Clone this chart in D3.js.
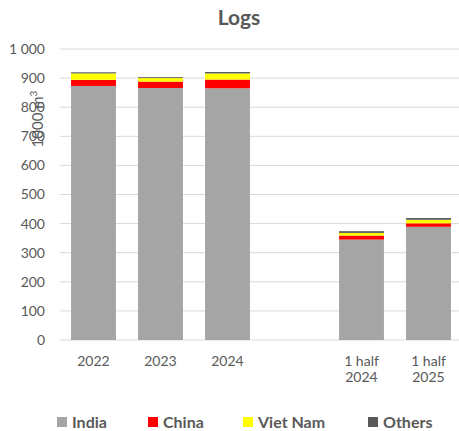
<!DOCTYPE html>
<html><head><meta charset="utf-8">
<script src="https://cdn.jsdelivr.net/npm/d3@7"></script>
<style>body{margin:0;background:#fff}svg{display:block}text{font-family:Lato,"Liberation Sans",sans-serif}</style>
</head><body><svg id="c" width="459" height="431"></svg>
<script>
const categories = ["2022", "2023", "2024", "", "1 half|2024", "1 half|2025"];
const seriesNames = ["India", "China", "Viet Nam", "Others"];
const colors = ["#a5a5a5", "#ff0000", "#ffff00", "#595959"];
const india   = [873, 866, 865, null, 345, 389];
const china   = [21, 22, 30, null, 14, 12];
const vietnam = [22, 12, 21, null, 9, 12];
const others  = [4, 3, 5, null, 6, 6];
const yTicks = [0, 100, 200, 300, 400, 500, 600, 700, 800, 900, 1000];

const svg = d3.select("#c");
const x = d3.scaleBand().domain(categories.map((c,i)=>i)).range([60, 462]).paddingInner(0.33).paddingOuter(0.165);
const y = d3.scaleLinear().domain([0, 1000]).range([340, 49]);

// gridlines
svg.append("g").selectAll("line").data(yTicks).join("line")
  .attr("x1", 60).attr("x2", 459).attr("y1", d=>y(d)).attr("y2", d=>y(d))
  .attr("stroke", "#d9d9d9").attr("stroke-width", 1);

// y labels
svg.append("g").selectAll("text").data(yTicks).join("text")
  .attr("x", 45).attr("y", d=>y(d)).attr("dy", "0.35em").attr("text-anchor", "end")
  .attr("font-size", 14).attr("fill", "#595959").text(d => d === 1000 ? "1 000" : d);

// stacked bars
const rows = categories.map((c,i)=>({i, India: india[i], China: china[i], "Viet Nam": vietnam[i], Others: others[i]})).filter(r=>r.India!=null);
const stack = d3.stack().keys(seriesNames)(rows);
svg.append("g").selectAll("g").data(stack).join("g").attr("fill", (d,k)=>colors[k])
  .selectAll("rect").data(d=>d).join("rect")
  .attr("x", d=>x(d.data.i)).attr("width", x.bandwidth())
  .attr("y", d=>y(d[1])).attr("height", d=>y(d[0])-y(d[1]));

// x labels
const xl = svg.append("g").selectAll("text").data(categories.map((c,i)=>({c,i}))).join("text")
  .attr("text-anchor", "middle").attr("font-size", 14).attr("fill", "#595959");
xl.each(function(d){
  const parts = d.c.split("|");
  const t = d3.select(this);
  parts.forEach((p,j)=>t.append("tspan").attr("x", x(d.i)+x.bandwidth()/2).attr("y", 366 + j*16).text(p));
});

// title
svg.append("text").attr("x", 239).attr("y", 25).attr("text-anchor", "middle")
  .attr("font-size", 21).attr("font-weight", "bold").attr("fill", "#595959").text("Logs");

// y-axis title
svg.append("text").attr("transform", "translate(43,119) rotate(-90)").attr("text-anchor", "middle")
  .attr("font-size", 15).attr("fill", "#595959")
  .html('1000 m<tspan dy="-6" font-size="10">3</tspan>');

// legend
const legX = [57, 148, 243, 368];
const lg = svg.append("g").selectAll("g").data(seriesNames).join("g")
  .attr("transform", (d,i)=>`translate(${legX[i]},0)`);
lg.append("rect").attr("x", 0).attr("y", 417).attr("width", 10).attr("height", 10).attr("fill", (d,i)=>colors[i]);
lg.append("text").attr("x", 15).attr("y", 422).attr("dy", "0.35em").attr("font-size", 16)
  .attr("font-weight", "bold").attr("fill", "#595959").text(d=>d);
</script></body></html>
